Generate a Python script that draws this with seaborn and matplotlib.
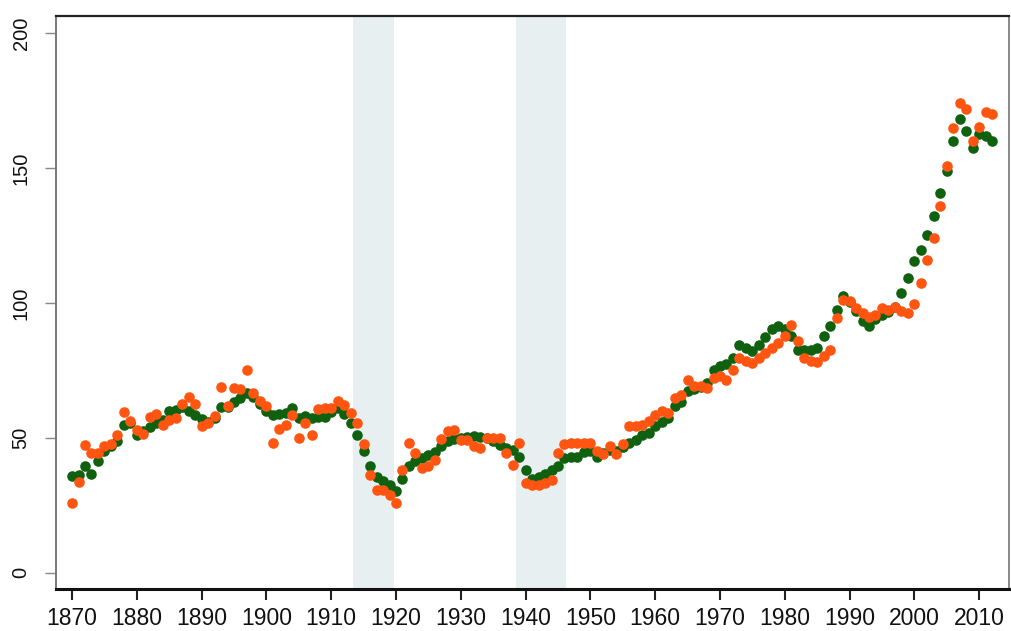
import numpy as np
import pandas as pd
import matplotlib
matplotlib.use("Agg")
import matplotlib.pyplot as plt
import seaborn as sns

# annual values, 1870-2012
years = list(range(1870, 2013))

green_vals = [
    36.0, 36.4, 39.7, 36.7, 41.3, 45.0, 47.0, 48.7, 54.9, 55.5,   # 1870s
    51.2, 52.5, 54.1, 55.5, 56.5, 59.9, 60.5, 61.5, 59.9, 58.6,   # 1880s
    57.0, 56.0, 57.5, 61.5, 61.5, 63.3, 64.8, 66.8, 65.0, 62.5,   # 1890s
    60.0, 58.6, 59.0, 59.4, 61.1, 57.2, 58.3, 57.4, 57.7, 57.8,   # 1900s
    59.5, 61.0, 59.0, 55.6, 51.0, 45.0, 39.7, 35.5, 34.0, 32.7,   # 1910s
    30.2, 34.8, 39.5, 41.3, 42.5, 43.8, 44.9, 47.1, 49.0, 49.6,   # 1920s
    50.0, 50.5, 50.7, 50.5, 50.0, 48.8, 47.5, 46.3, 45.6, 43.0,   # 1930s
    38.2, 34.8, 35.5, 36.5, 38.1, 39.5, 42.5, 43.0, 42.9, 44.6,   # 1940s
    45.0, 42.9, 44.5, 45.5, 45.0, 46.5, 48.1, 49.4, 51.0, 51.8,   # 1950s
    54.3, 55.8, 57.5, 61.7, 63.5, 67.3, 68.0, 69.0, 70.5, 75.3,   # 1960s
    76.5, 77.5, 79.7, 84.6, 83.4, 82.2, 84.6, 87.5, 90.2, 91.4,   # 1970s
    90.2, 87.7, 82.7, 82.7, 82.7, 83.4, 87.8, 91.5, 97.6, 102.5,  # 1980s
    100.5, 97.0, 93.3, 91.4, 94.1, 95.5, 96.5, 98.5, 103.8, 109.3,  # 1990s
    115.5, 119.8, 125.4, 132.2, 140.9, 148.9, 160.0, 168.1, 163.8, 157.6,  # 2000s
    162.5, 161.8, 160.0,
]

orange_vals = [
    26.0, 33.6, 47.4, 44.4, 44.5, 47.1, 47.9, 51.0, 59.5, 56.1,
    52.8, 51.5, 57.8, 59.0, 54.9, 56.8, 57.2, 62.7, 65.2, 62.7,
    54.5, 55.5, 58.0, 68.8, 61.7, 68.6, 68.0, 75.3, 66.8, 63.6,
    61.8, 48.3, 53.4, 54.9, 58.5, 50.1, 55.7, 51.0, 60.8, 61.2,
    61.2, 63.7, 62.2, 59.4, 55.5, 47.8, 36.4, 30.8, 30.8, 28.9,
    25.9, 38.2, 48.1, 44.4, 38.8, 39.5, 41.7, 49.5, 52.4, 53.0,
    49.4, 49.4, 47.1, 46.3, 50.1, 50.1, 50.1, 44.4, 40.1, 48.1,
    33.3, 32.5, 32.5, 33.3, 34.3, 44.4, 47.9, 48.1, 48.3, 48.3,
    48.3, 45.0, 44.2, 46.9, 44.2, 47.9, 54.5, 54.3, 54.9, 56.1,
    58.6, 59.9, 59.3, 64.8, 66.0, 71.6, 69.1, 69.1, 68.5, 72.2,
    72.8, 71.6, 75.1, 79.7, 78.4, 77.8, 79.7, 81.5, 83.4, 85.2,
    87.6, 92.0, 85.8, 79.7, 78.4, 78.0, 80.3, 82.7, 94.5, 101.3,
    100.7, 98.2, 96.4, 94.9, 95.6, 98.2, 97.6, 98.6, 96.9, 96.4,
    99.8, 107.5, 116.1, 124.2, 135.9, 150.8, 165.0, 174.0, 171.8, 160.0,
    165.4, 170.8, 170.0,
]

war_periods = [(1913.4, 1919.7), (1938.5, 1946.2)]
x_ticks = list(range(1870, 2011, 10))
y_ticks = [0, 50, 100, 150, 200]

df = pd.DataFrame({"year": years, "green": green_vals, "orange": orange_vals})

sns.set_style("white")
plt.rcParams["font.family"] = ["Liberation Sans", "DejaVu Sans"]

fig = plt.figure(figsize=(10.11, 6.31), dpi=100)
ax = fig.add_axes([0.0549, 0.0666, 0.9431, 0.9084])

for start, end in war_periods:
    ax.axvspan(start, end, color="#e7eff1", lw=0, zorder=0)

sns.scatterplot(data=df, x="year", y="green", ax=ax, color="#0f600f",
                s=58, linewidth=0, zorder=2)
sns.scatterplot(data=df, x="year", y="orange", ax=ax, color="#ff5511",
                s=58, linewidth=0, zorder=3)

ax.set_xlim(1867.45, 2014.6)
ax.set_ylim(-6, 206.5)
ax.set_xticks(x_ticks)
ax.set_yticks(y_ticks)
ax.set_xlabel("")
ax.set_ylabel("")

ax.tick_params(axis="x", bottom=True, direction="out", length=8, width=1.5,
               color="#222222", labelsize=16.5, labelcolor="#111111", pad=5)
ax.tick_params(axis="y", left=True, direction="out", length=8, width=1,
               color="#888888", labelsize=14.5, labelcolor="#111111", pad=10)
for lbl in ax.get_yticklabels():
    lbl.set_rotation(90)
    lbl.set_va("center")

ax.spines["bottom"].set_linewidth(2.2)
ax.spines["bottom"].set_color("#111111")
ax.spines["top"].set_linewidth(1.6)
ax.spines["top"].set_color("#222222")
ax.spines["left"].set_linewidth(1.4)
ax.spines["left"].set_color("#777777")
ax.spines["right"].set_linewidth(1.4)
ax.spines["right"].set_color("#888888")

fig.savefig("out.png", dpi=100)
